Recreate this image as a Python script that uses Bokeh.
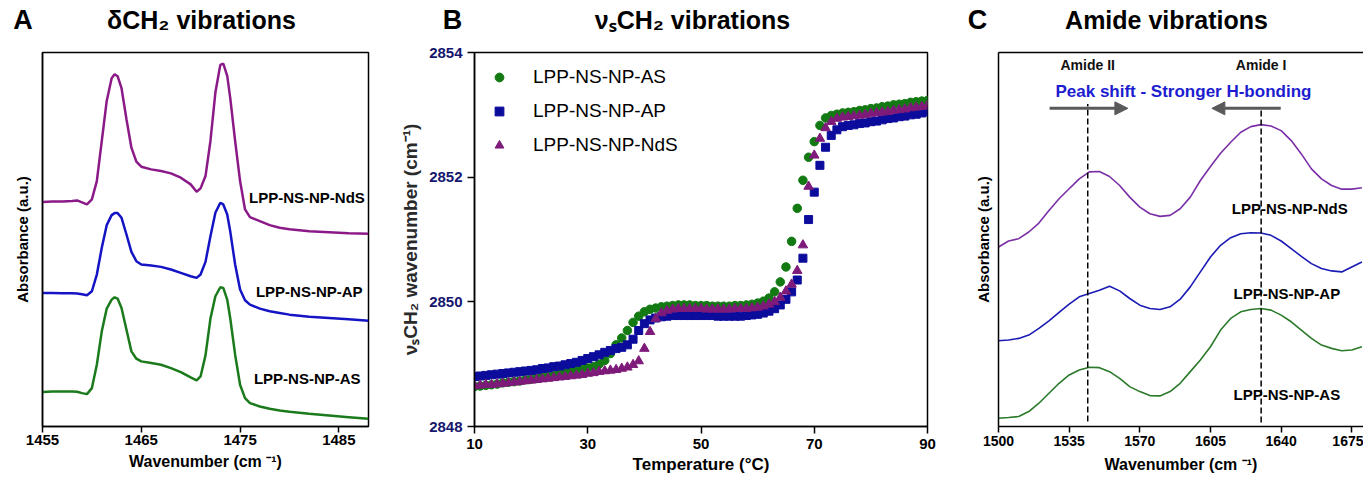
from bokeh.plotting import figure
from bokeh.layouts import row, column
from bokeh.models import (Label, Legend, LegendItem, FixedTicker, Arrow, NormalHead,
                          LinearAxis, Range1d)
from bokeh.embed import file_html
from bokeh.resources import INLINE
from bokeh.core.properties import value

FONT = "Liberation Sans"

# ---------------- Panel A : delta CH2 ----------------
wn_a = [1455, 1456, 1457, 1458, 1458.5, 1459, 1459.5, 1460, 1460.5, 1461,
        1461.5, 1462, 1462.3, 1462.6, 1463, 1463.5, 1464, 1464.5, 1465, 1466,
        1467, 1468, 1469, 1470, 1470.6, 1471, 1471.5, 1472, 1472.5, 1473,
        1473.3, 1473.7, 1474, 1474.5, 1475, 1475.5, 1476, 1477, 1478, 1479,
        1480, 1482, 1484, 1486, 1488]
a_nds = [0.672, 0.674, 0.674, 0.675, 0.677, 0.671, 0.665, 0.680, 0.735, 0.855,
         0.975, 1.043, 1.055, 1.049, 1.013, 0.920, 0.835, 0.793, 0.778, 0.770,
         0.765, 0.758, 0.745, 0.725, 0.703, 0.713, 0.750, 0.855, 1.000, 1.083,
         1.087, 1.050, 0.985, 0.855, 0.735, 0.650, 0.627, 0.615, 0.603, 0.595,
         0.591, 0.585, 0.582, 0.579, 0.577]
a_ap = [0.400, 0.400, 0.399, 0.399, 0.398, 0.396, 0.393, 0.405, 0.455, 0.535,
        0.603, 0.633, 0.639, 0.639, 0.625, 0.575, 0.523, 0.495, 0.485, 0.482,
        0.478, 0.470, 0.460, 0.450, 0.445, 0.455, 0.493, 0.570, 0.640, 0.670,
        0.665, 0.635, 0.585, 0.485, 0.410, 0.378, 0.365, 0.353, 0.345, 0.340,
        0.335, 0.329, 0.325, 0.321, 0.317]
a_as = [0.103, 0.105, 0.105, 0.105, 0.104, 0.100, 0.097, 0.115, 0.185, 0.285,
        0.353, 0.380, 0.387, 0.383, 0.355, 0.290, 0.225, 0.203, 0.195, 0.190,
        0.185, 0.175, 0.163, 0.147, 0.138, 0.150, 0.213, 0.323, 0.390, 0.417,
        0.415, 0.380, 0.325, 0.215, 0.125, 0.085, 0.070, 0.060, 0.053, 0.048,
        0.044, 0.038, 0.033, 0.028, 0.023]
a_names = ["LPP-NS-NP-NdS", "LPP-NS-NP-AP", "LPP-NS-NP-AS"]
a_name_x = [1475.9, 1476.6, 1476.4]
a_name_y = [0.687, 0.405, 0.144]
a_ticks = [1455, 1465, 1475, 1485]

# ---------------- Panel B : nu_s CH2 vs temperature ----------------
temp = list(range(10, 91))
b_as = [2848.64, 2848.65, 2848.66, 2848.67, 2848.68, 2848.70, 2848.71, 2848.72, 2848.73, 2848.75,
        2848.76, 2848.77, 2848.79, 2848.80, 2848.82, 2848.84, 2848.86, 2848.88, 2848.90, 2848.92,
        2848.94, 2848.96, 2849.00, 2849.06, 2849.17, 2849.31, 2849.42, 2849.54, 2849.67, 2849.77,
        2849.84, 2849.88, 2849.90, 2849.92, 2849.93, 2849.94, 2849.95, 2849.95, 2849.95, 2849.94,
        2849.94, 2849.94, 2849.93, 2849.93, 2849.93, 2849.93, 2849.94, 2849.94, 2849.95, 2849.96,
        2849.98, 2850.01, 2850.06, 2850.16, 2850.32, 2850.56, 2850.97, 2851.50, 2851.95, 2852.32,
        2852.57, 2852.83, 2852.95, 2852.99, 2853.01, 2853.03, 2853.04, 2853.05, 2853.07, 2853.08,
        2853.10, 2853.11, 2853.13, 2853.14, 2853.16, 2853.17, 2853.18, 2853.20, 2853.21, 2853.22,
        2853.23]
b_ap = [2848.80, 2848.81, 2848.82, 2848.83, 2848.84, 2848.85, 2848.86, 2848.87, 2848.88, 2848.89,
        2848.90, 2848.91, 2848.93, 2848.94, 2848.96, 2848.97, 2848.99, 2849.01, 2849.03, 2849.06,
        2849.09, 2849.12, 2849.15, 2849.19, 2849.22, 2849.25, 2849.27, 2849.31, 2849.40, 2849.54,
        2849.65, 2849.71, 2849.74, 2849.76, 2849.77, 2849.78, 2849.78, 2849.78, 2849.78, 2849.78,
        2849.78, 2849.78, 2849.78, 2849.77, 2849.77, 2849.77, 2849.77, 2849.77, 2849.78, 2849.79,
        2849.80, 2849.82, 2849.85, 2849.89, 2849.95, 2850.04, 2850.16, 2850.35, 2850.70, 2851.32,
        2851.76, 2852.19, 2852.48, 2852.67, 2852.76, 2852.81, 2852.83, 2852.84, 2852.86, 2852.87,
        2852.89, 2852.90, 2852.92, 2852.94, 2852.95, 2852.97, 2852.98, 2853.00, 2853.01, 2853.03,
        2853.05]
b_nds = [2848.65, 2848.66, 2848.67, 2848.67, 2848.68, 2848.69, 2848.70, 2848.71, 2848.72, 2848.73,
         2848.74, 2848.75, 2848.76, 2848.77, 2848.78, 2848.79, 2848.80, 2848.81, 2848.82, 2848.83,
         2848.85, 2848.86, 2848.88, 2848.89, 2848.90, 2848.91, 2848.93, 2848.95, 2848.99, 2849.05,
         2849.25, 2849.52, 2849.73, 2849.82, 2849.86, 2849.88, 2849.89, 2849.89, 2849.89, 2849.89,
         2849.89, 2849.88, 2849.88, 2849.88, 2849.88, 2849.88, 2849.89, 2849.89, 2849.89, 2849.90,
         2849.91, 2849.93, 2849.96, 2850.00, 2850.07, 2850.17, 2850.28, 2850.50, 2850.91, 2851.85,
         2852.35, 2852.62, 2852.79, 2852.89, 2852.94, 2852.96, 2852.97, 2852.98, 2852.99, 2853.00,
         2853.02, 2853.03, 2853.04, 2853.05, 2853.07, 2853.08, 2853.09, 2853.11, 2853.12, 2853.13,
         2853.15]
b_names = ["LPP-NS-NP-AS", "LPP-NS-NP-AP", "LPP-NS-NP-NdS"]
b_xticks = [10, 30, 50, 70, 90]
b_yticks = [2848, 2850, 2852, 2854]

# ---------------- Panel C : amide ----------------
wn_c = list(range(1500, 1681, 5))
c_nds = [0.540, 0.558, 0.565, 0.585, 0.612, 0.650, 0.685, 0.715, 0.745, 0.766,
         0.767, 0.752, 0.725, 0.690, 0.660, 0.640, 0.632, 0.635, 0.655, 0.690,
         0.740, 0.782, 0.822, 0.855, 0.885, 0.902, 0.908, 0.904, 0.890, 0.860,
         0.820, 0.775, 0.745, 0.725, 0.714, 0.714, 0.718]
c_ap = [0.258, 0.260, 0.265, 0.275, 0.295, 0.318, 0.343, 0.368, 0.390, 0.400,
        0.410, 0.422, 0.408, 0.385, 0.365, 0.355, 0.352, 0.360, 0.383, 0.420,
        0.465, 0.510, 0.545, 0.568, 0.580, 0.583, 0.582, 0.575, 0.558, 0.535,
        0.512, 0.490, 0.475, 0.468, 0.465, 0.480, 0.495]
c_as = [0.025, 0.027, 0.030, 0.045, 0.070, 0.100, 0.130, 0.155, 0.170, 0.178,
        0.177, 0.165, 0.145, 0.120, 0.105, 0.093, 0.092, 0.105, 0.130, 0.165,
        0.200, 0.240, 0.290, 0.325, 0.345, 0.352, 0.355, 0.350, 0.335, 0.315,
        0.290, 0.265, 0.245, 0.235, 0.228, 0.230, 0.240]
c_names = ["LPP-NS-NP-NdS", "LPP-NS-NP-AP", "LPP-NS-NP-AS"]
c_name_x = [1615.6, 1616.4, 1616.4]
c_name_y = [0.655, 0.400, 0.095]
c_peaks = [1544.2, 1630.1]
c_peak_top = [0.970, 0.960]
c_peak_bottom = [0.015, 0.012]
c_band_names = ["Amide II", "Amide I"]
c_band_y = [1.088, 1.088]
c_arrow_start = [1525.3, 1639.8]
c_arrow_end = [1564.1, 1605.7]
c_arrow_y = 0.957
c_ticks = [1500, 1535, 1570, 1605, 1640, 1675]

# ---------------- Titles ----------------
panel_letters = ["A", "B", "C"]
panel_titles = ["\u03b4CH\u2082 vibrations", "\u03bd\u209bCH\u2082 vibrations", "Amide vibrations"]
letter_x = [22.5, 452, 977]
title_x = [201, 692, 1166]

STRIP_H = 44
FIG_H = 435
TOP = 8
BOTTOM = 53


def base_style(p, tick_size="15px", standoff=2, tick_out=6):
    p.grid.visible = False
    p.background_fill_color = "white"
    p.border_fill_color = "white"
    p.outline_line_color = "black"
    p.outline_line_width = 1.5
    for ax in p.axis:
        ax.axis_line_width = 1.5
        ax.axis_line_color = "black"
        ax.major_tick_line_width = 1.5
        ax.major_tick_line_color = "black"
        ax.minor_tick_line_color = None
        ax.major_tick_in = 0
        ax.major_tick_out = tick_out
        ax.major_label_standoff = standoff
        ax.major_label_text_font = FONT
        ax.major_label_text_font_style = "bold"
        ax.major_label_text_font_size = tick_size
        ax.major_label_text_color = "black"
        ax.axis_label_text_font = FONT
        ax.axis_label_text_font_style = "bold"
        ax.axis_label_text_color = "black"


# ====== Title strip ======
pt = figure(width=1363, height=STRIP_H, x_range=Range1d(0, 1363), y_range=Range1d(0, STRIP_H),
            x_axis_type=None, y_axis_type=None, output_backend="svg", toolbar_location=None,
            min_border=0)
pt.outline_line_color = None
pt.grid.visible = False
pt.text(x=letter_x, y=[STRIP_H - 19] * 3, text=panel_letters, text_font=value(FONT),
        text_font_style="bold", text_font_size="27px", text_color="black",
        text_align="center", text_baseline="middle")
pt.text(x=title_x, y=[STRIP_H - 19] * 3, text=panel_titles, text_font=value(FONT),
        text_font_style="bold", text_font_size="25px", text_color="black",
        text_align="center", text_baseline="middle")

# ====== Figure A ======
pa = figure(width=395, height=FIG_H, x_range=Range1d(1455, 1488), y_range=Range1d(0, 1.12),
            output_backend="svg", toolbar_location=None,
            min_border_left=42, min_border_right=27,
            min_border_top=TOP, min_border_bottom=BOTTOM)
base_style(pa)
pa.xaxis.ticker = FixedTicker(ticks=a_ticks)
pa.xaxis.axis_label = "Wavenumber (cm \u207b\u00b9)"
pa.xaxis.axis_label_text_font_size = "16px"
pa.xaxis.axis_label_standoff = 5
pa.yaxis.ticker = FixedTicker(ticks=[])
pa.yaxis.major_tick_out = 0
pa.yaxis.axis_label = "Absorbance (a.u.)"
pa.yaxis.axis_label_text_font_size = "15px"
pa.yaxis.axis_label_standoff = 12

pa.line(wn_a, a_nds, line_color="#8b1a88", line_width=2.5)
pa.line(wn_a, a_ap, line_color="#1414c4", line_width=2.5)
pa.line(wn_a, a_as, line_color="#1b7a1b", line_width=2.5)
pa.text(x=a_name_x, y=a_name_y, text=a_names, text_font=value(FONT), text_font_style="bold",
        text_font_size="15px", text_color="black", text_baseline="middle", text_align="left")

# ====== Figure B ======
pb = figure(width=565, height=FIG_H, x_range=Range1d(10, 90), y_range=Range1d(2848, 2854),
            output_backend="svg", toolbar_location=None,
            min_border_left=79, min_border_right=33,
            min_border_top=TOP, min_border_bottom=BOTTOM)
base_style(pb, tick_size="15px", standoff=5, tick_out=7)
pb.xaxis.ticker = FixedTicker(ticks=b_xticks)
pb.xaxis.axis_label = "Temperature (\u00b0C)"
pb.xaxis.axis_label_text_font_size = "17px"
pb.xaxis.axis_label_standoff = 3
pb.yaxis.ticker = FixedTicker(ticks=b_yticks)
pb.yaxis.major_label_text_color = "#16166e"
pb.yaxis.axis_label = "\u03bd\u209bCH\u2082 wavenumber (cm\u207b\u00b9)"
pb.yaxis.axis_label_text_font_size = "19px"
pb.yaxis.axis_label_text_color = "#2a2a2a"
pb.yaxis.axis_label_standoff = 5

r_as = pb.scatter(temp, b_as, marker="circle", size=8.5, fill_color="#137a13", line_color="#137a13")
r_ap = pb.scatter(temp, b_ap, marker="square", size=8, fill_color="#0c0c9c", line_color="#0c0c9c")
r_nds = pb.scatter(temp, b_nds, marker="triangle", size=9.5, fill_color="#7e1a7a", line_color="#7e1a7a")

legend = Legend(items=[LegendItem(label=b_names[0], renderers=[r_as]),
                       LegendItem(label=b_names[1], renderers=[r_ap]),
                       LegendItem(label=b_names[2], renderers=[r_nds])],
                location="top_left")
legend.background_fill_alpha = 0
legend.border_line_color = None
legend.label_text_font = FONT
legend.label_text_font_size = "19px"
legend.label_text_color = "black"
legend.glyph_width = 22
legend.glyph_height = 22
legend.label_height = 22
legend.spacing = 12
legend.padding = 0
legend.margin = 14
legend.label_standoff = 23
pb.add_layout(legend)

# ====== Figure C ======
pc = figure(width=403, height=FIG_H, x_range=Range1d(1500, 1680.8), y_range=Range1d(0, 1.125),
            output_backend="svg", toolbar_location=None,
            min_border_left=38, min_border_right=0,
            min_border_top=TOP, min_border_bottom=BOTTOM)
base_style(pc, tick_size="14px", standoff=3, tick_out=6)
pc.outline_line_color = None
pc.xaxis.ticker = FixedTicker(ticks=c_ticks)
pc.xaxis.axis_label = "Wavenumber (cm \u207b\u00b9)"
pc.xaxis.axis_label_text_font_size = "16px"
pc.xaxis.axis_label_standoff = 7
pc.yaxis.ticker = FixedTicker(ticks=[])
pc.yaxis.major_tick_out = 0
pc.yaxis.axis_label = "Absorbance (a.u.)"
pc.yaxis.axis_label_text_font_size = "15px"
pc.yaxis.axis_label_standoff = 7
top_axis = LinearAxis(ticker=FixedTicker(ticks=[]), major_tick_out=0, major_tick_in=0,
                      axis_line_width=1.5, axis_line_color="black",
                      major_label_text_font_size="0px")
pc.add_layout(top_axis, "above")

pc.line(wn_c, c_nds, line_color="#7a2fa6", line_width=1.6)
pc.line(wn_c, c_ap, line_color="#1a1ab4", line_width=1.6)
pc.line(wn_c, c_as, line_color="#2a7a2a", line_width=1.6)
pc.text(x=c_name_x, y=c_name_y, text=c_names, text_font=value(FONT), text_font_style="bold",
        text_font_size="15px", text_color="black", text_baseline="middle", text_align="left")
pc.segment(x0=c_peaks, y0=c_peak_bottom, x1=c_peaks, y1=c_peak_top,
           line_color="black", line_width=1.5, line_dash="6 3")
pc.text(x=c_peaks, y=c_band_y, text=c_band_names, text_font=value(FONT), text_font_style="bold",
        text_font_size="14px", text_color="#111111", text_baseline="middle", text_align="center")
pc.add_layout(Label(x=1591.6, y=1.008, text="Peak shift - Stronger H-bonding",
                    text_font=FONT, text_font_size="17px", text_font_style="bold",
                    text_color="#1c1cd0", text_align="center", text_baseline="middle"))
for xs, xe in zip(c_arrow_start, c_arrow_end):
    pc.add_layout(Arrow(end=NormalHead(size=13, fill_color="#5a5a5a", line_color="#5a5a5a"),
                        x_start=xs, y_start=c_arrow_y, x_end=xe, y_end=c_arrow_y,
                        line_color="#5a5a5a", line_width=3))

layout = column(pt, row(pa, pb, pc))
open("out.html", "w").write(file_html(layout, INLINE))
